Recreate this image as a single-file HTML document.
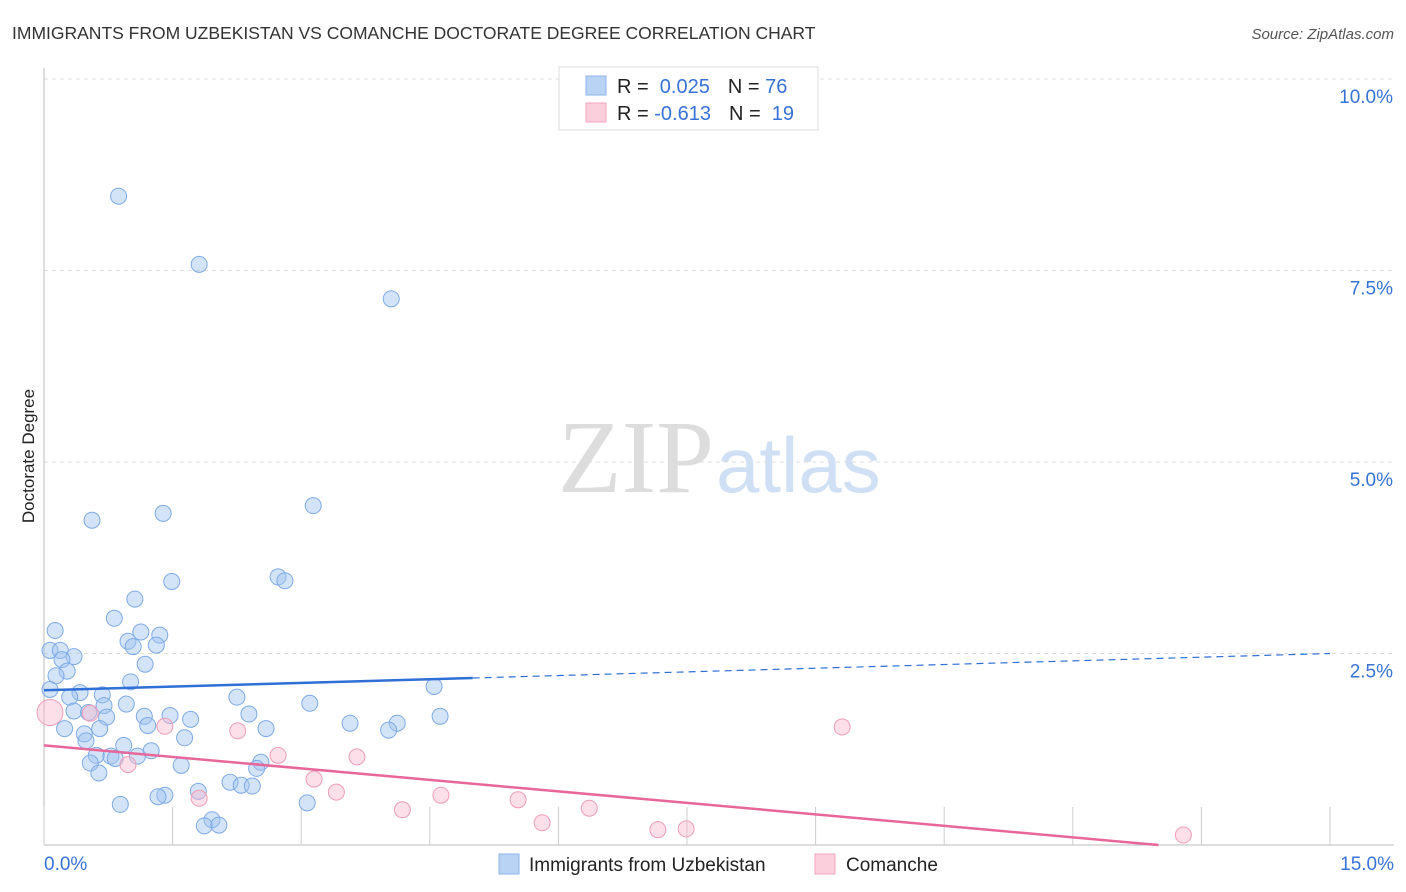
<!DOCTYPE html>
<html><head><meta charset="utf-8"><style>
body{margin:0;background:#fff;font-family:"Liberation Sans",sans-serif;}
svg{display:block}
</style></head><body>
<svg id="c" width="1406" height="892">
<text x="12" y="39" font-size="17.5" fill="#333">IMMIGRANTS FROM UZBEKISTAN VS COMANCHE DOCTORATE DEGREE CORRELATION CHART</text>
<text x="1394" y="39" font-size="15" fill="#555" font-style="italic" text-anchor="end">Source: ZipAtlas.com</text>
<text x="34" y="456" font-size="17" fill="#222" transform="rotate(-90 34 456)" text-anchor="middle">Doctorate Degree</text>
<text x="714" y="492" font-size="104" fill="#ddd" text-anchor="end" font-family="Liberation Serif,serif">ZIP</text>
<text x="716" y="492" font-size="78" fill="#cfe0f5">atlas</text>
<g id="grid"></g><g id="marks"></g>
<g>
<rect x="559" y="67" width="259" height="63" fill="#fff" stroke="#ddd"/>
<rect x="586" y="76" width="20" height="19" fill="#b9d3f5" stroke="#8fb5e8"/>
<rect x="586" y="103" width="20" height="19" fill="#fbcfdc" stroke="#f0a5bc"/>
<text x="617" y="93" font-size="20" fill="#222">R = <tspan fill="#3773d6">&#160;0.025</tspan><tspan dx="18">N = </tspan><tspan fill="#3773d6">76</tspan></text>
<text x="617" y="120" font-size="20" fill="#222">R = <tspan fill="#3773d6">-0.613</tspan><tspan dx="18">N = </tspan><tspan fill="#3773d6">&#160;19</tspan></text>
</g>
<g>
<rect x="499" y="854" width="20" height="20" fill="#b9d3f5" stroke="#8fb5e8"/>
<text x="529" y="871" font-size="19" fill="#222">Immigrants from Uzbekistan</text>
<rect x="815" y="854" width="20" height="20" fill="#fbcfdc" stroke="#f0a5bc"/>
<text x="846" y="871" font-size="19" fill="#222">Comanche</text>
</g>
</svg>
<script>
const yTicks=[2.5,5,7.5,10];
const yTickLabels=["2.5%","5.0%","7.5%","10.0%"];
const xTicks=[0,1.5,3,4.5,6,7.5,9,10.5,12,13.5,15];
const xTickLabels=["0.0%","15.0%"];
const blueX=[0.87,1.81,4.05,0.56,1.39,3.14,1.49,2.73,2.81,1.06,0.82,0.13,1.13,1.35,0.98,1.04,1.31,0.07,0.19,0.35,0.21,1.18,0.27,0.14,1.01,0.07,0.42,0.68,2.25,4.55,3.10,0.30,0.96,0.70,0.35,0.52,2.39,1.47,0.73,1.17,1.71,4.62,1.21,3.57,4.12,4.02,0.24,0.65,2.59,0.47,1.64,0.93,0.49,1.25,0.61,0.78,0.83,1.09,2.53,0.54,1.60,2.48,0.64,2.17,1.80,2.30,2.43,1.41,1.33,0.89,3.07,1.96,1.87,2.04];
const blueY=[8.47,7.58,7.13,4.24,4.33,4.43,3.44,3.50,3.45,3.21,2.96,2.80,2.78,2.74,2.66,2.59,2.61,2.54,2.54,2.46,2.42,2.36,2.27,2.21,2.13,2.03,1.99,1.96,1.93,2.07,1.85,1.93,1.84,1.82,1.75,1.73,1.71,1.69,1.67,1.68,1.64,1.68,1.56,1.59,1.59,1.50,1.52,1.52,1.52,1.45,1.40,1.30,1.36,1.23,1.17,1.16,1.13,1.16,1.08,1.07,1.04,1.00,0.94,0.82,0.70,0.78,0.77,0.65,0.63,0.53,0.55,0.33,0.25,0.26];
const pinkX=[0.07,0.54,1.41,2.26,2.73,0.98,3.65,3.15,3.41,1.81,4.63,4.18,5.53,6.36,5.81,7.16,7.49,9.31,13.29];
const pinkY=[1.73,1.72,1.55,1.49,1.17,1.05,1.15,0.86,0.69,0.61,0.65,0.46,0.59,0.48,0.29,0.20,0.21,1.54,0.13];
const blueTrend=[2.02,2.50];
const pinkTrend=[1.30,-0.10];
const L=44,R=1330,T=79,B=845;
const xs=v=>L+(v/15)*(R-L);
const ys=v=>B-(v/10)*(B-T);
const NS="http://www.w3.org/2000/svg";
const grid=document.getElementById('grid'),marks=document.getElementById('marks');
function mk(tag,attrs,parent){const e=document.createElementNS(NS,tag);for(const k in attrs)e.setAttribute(k,attrs[k]);parent.appendChild(e);return e;}
yTicks.forEach((t,i)=>{
 const g=mk('line',{x1:L,x2:1394,y1:ys(t),y2:ys(t),stroke:'#ddd','stroke-dasharray':'4,4'},grid);
 
 
 const tx=mk('text',{x:1393,y:ys(t)+24,'font-size':19,fill:'#3773d6','text-anchor':'end'},grid);
 tx.textContent=yTickLabels[i];
 
 
});
const ax=mk('line',{x1:L,x2:L,y1:68,y2:B,stroke:'#bbb'},grid);


const bx=mk('line',{x1:L,x2:1394,y1:B,y2:B,stroke:'#bbb'},grid);


xTicks.forEach(t=>{
 const l=mk('line',{x1:xs(t),x2:xs(t),y1:B,y2:B-38,stroke:'#ccc'},grid);
 
 
});
[[0,'start',44],[15,'end',1394]].forEach((a,i)=>{
 const tx=mk('text',{x:a[2],y:870,'font-size':19,fill:'#3773d6','text-anchor':a[1]},grid);
 tx.textContent=xTickLabels[i];
 
 
});
blueX.forEach((x,i)=>{
 const c=mk('circle',{cx:xs(x),cy:ys(blueY[i]),r:8,fill:'rgba(160,196,240,0.45)',stroke:'#7eaae6','stroke-width':1},marks);
 
 
});
pinkX.forEach((x,i)=>{
 const c=mk('circle',{cx:xs(x),cy:ys(pinkY[i]),r:i==0?13:8,fill:'rgba(248,185,205,0.45)',stroke:'#ef9db8','stroke-width':1},marks);
 
 
});
const bAt=x=>blueTrend[0]+(blueTrend[1]-blueTrend[0])*x/15;
const b1=mk('line',{x1:xs(0),y1:ys(bAt(0)),x2:xs(5),y2:ys(bAt(5)),stroke:'#2f6fd6','stroke-width':2.5},marks);


const b2=mk('line',{x1:xs(5),y1:ys(bAt(5)),x2:xs(15),y2:ys(bAt(15)),stroke:'#2f6fd6','stroke-width':1.2,'stroke-dasharray':'7,5'},marks);


const pEnd=Math.min(15,-pinkTrend[0]/pinkTrend[1]);
const p1=mk('line',{x1:xs(0),y1:ys(pinkTrend[0]),x2:xs(pEnd),y2:ys(pinkTrend[0]+pinkTrend[1]*pEnd),stroke:'#e8679a','stroke-width':2.5},marks);


</script>
</body></html>
